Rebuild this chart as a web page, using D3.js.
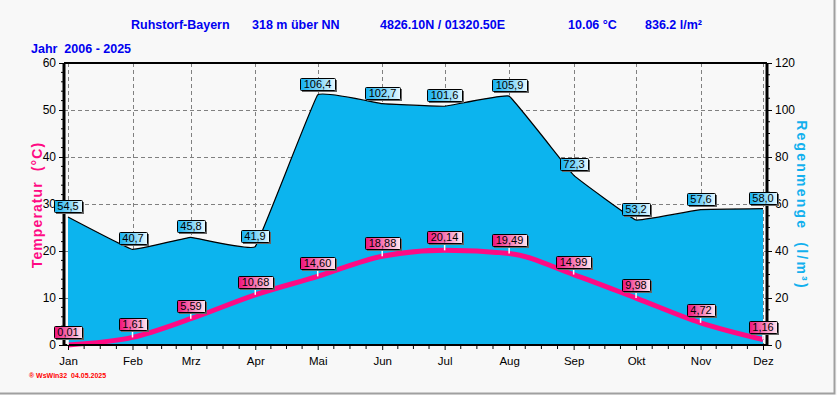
<!DOCTYPE html>
<html>
<head>
<meta charset="utf-8">
<script src="https://cdn.jsdelivr.net/npm/d3@7"></script>
<style>
  body { margin: 0; background: #f8f8f8; }
  svg { display: block; font-family: "Liberation Sans", Arial, sans-serif; }
</style>
</head>
<body>
<script>
  // data
  const months = ['Jan','Feb','Mrz','Apr','Mai','Jun','Jul','Aug','Sep','Okt','Nov','Dez'];
  const temperature = [0.01, 1.61, 5.59, 10.68, 14.60, 18.88, 20.14, 19.49, 14.99, 9.98, 4.72, 1.16];
  const rain = [54.5, 40.7, 45.8, 41.9, 106.4, 102.7, 101.6, 105.9, 72.3, 53.2, 57.6, 58.0];
  const tempTicks = [0, 10, 20, 30, 40, 50, 60];
  const rainTicks = [0, 20, 40, 60, 80, 100, 120];
  const headerTexts = [
    {t: 'Ruhstorf-Bayern', x: 131},
    {t: '318 m über NN', x: 252},
    {t: '4826.10N / 01320.50E', x: 380},
    {t: '10.06 °C', x: 568},
    {t: '836.2 l/m²', x: 645}
  ];

  const W = 837, H = 395;
  const margin = {top: 63, bottom: 50, left: 64, right: 70};
  const width = W - margin.left - margin.right;
  const height = H - margin.top - margin.bottom;

  const svg = d3.select('body').append('svg')
    .attr('width', W).attr('height', H);

  svg.append('rect').attr('width', W).attr('height', H).attr('fill', '#f8f8f8');
  // frame on right and bottom
  svg.append('path').attr('d', `M${W-2.5},0V${H-1.5}H0`)
    .attr('fill', 'none').attr('stroke', '#a0a0a0').attr('stroke-width', 2);

  const defs = svg.append('defs');
  const gPink = defs.append('linearGradient').attr('id', 'gPink');
  gPink.append('stop').attr('offset', '0%').attr('stop-color', '#f0107a');
  gPink.append('stop').attr('offset', '100%').attr('stop-color', '#ffe8f2');
  const gBlue = defs.append('linearGradient').attr('id', 'gBlue');
  gBlue.append('stop').attr('offset', '0%').attr('stop-color', '#10b0f0');
  gBlue.append('stop').attr('offset', '100%').attr('stop-color', '#e8f8ff');

  const g = svg.append('g').attr('transform', `translate(${margin.left},${margin.top})`);

  const dates = months.map((m, i) => new Date(2025, i, 1));
  const x = d3.scaleTime().domain([dates[0], dates[11]]).range([4, width - 4]);
  const yT = d3.scaleLinear().domain([0, 60]).range([height, 0]);
  const yR = d3.scaleLinear().domain([0, 120]).range([height, 0]);

  // grid
  g.append('g').selectAll('line').data(tempTicks.slice(1, -1)).join('line')
    .attr('x1', 0).attr('x2', width).attr('y1', d => yT(d) + 0.5).attr('y2', d => yT(d) + 0.5)
    .attr('stroke', '#808080').attr('stroke-dasharray', '4,3');
  g.append('g').selectAll('line').data(dates).join('line')
    .attr('x1', d => Math.round(x(d)) + 0.5).attr('x2', d => Math.round(x(d)) + 0.5)
    .attr('y1', 0).attr('y2', height)
    .attr('stroke', '#808080').attr('stroke-dasharray', '4,3');

  // rain area
  const rainCurve = d3.curveCardinal.tension(0.8);
  const area = d3.area().curve(rainCurve)
    .x((d, i) => x(dates[i])).y0(height).y1(d => yR(d));
  g.append('path').datum(rain).attr('d', area).attr('fill', '#0cb4ee');
  const rainLine = d3.line().curve(rainCurve)
    .x((d, i) => x(dates[i])).y(d => yR(d));
  g.append('path').datum(rain).attr('d', rainLine)
    .attr('fill', 'none').attr('stroke', '#000').attr('stroke-width', 1.2);

  // temperature line
  const tLine = d3.line().curve(d3.curveMonotoneX)
    .x((d, i) => x(dates[i])).y(d => yT(d));
  g.append('path').datum(temperature).attr('d', tLine)
    .attr('fill', 'none').attr('stroke', '#ff0a84').attr('stroke-width', 5);

  // axes
  const axLeft = g.append('g').call(d3.axisLeft(yT).tickValues(tempTicks).tickSize(5).tickPadding(3));
  const axRight = g.append('g').attr('transform', `translate(${width},0)`)
    .call(d3.axisRight(yR).tickValues(rainTicks).tickSize(5).tickPadding(3));
  const minorL = d3.range(0, 61, 2).filter(v => v % 10);
  g.append('g').selectAll('line').data(minorL).join('line')
    .attr('x1', -3).attr('x2', 0).attr('y1', d => yT(d)).attr('y2', d => yT(d)).attr('stroke', '#000');
  const minorR = d3.range(0, 121, 5).filter(v => v % 20);
  g.append('g').selectAll('line').data(minorR).join('line')
    .attr('x1', width).attr('x2', width + 3).attr('y1', d => yR(d)).attr('y2', d => yR(d)).attr('stroke', '#000');

  const axBottom = g.append('g').attr('transform', `translate(0,${height})`)
    .call(d3.axisBottom(x).tickValues(dates).tickFormat((d, i) => months[i]).tickSize(5).tickPadding(7));
  // quarter-month minor ticks
  const minorX = [];
  dates.slice(0, -1).forEach((d, i) => {
    const a = x(d), b = x(dates[i + 1]);
    [1, 2, 3].forEach(k => minorX.push(a + (b - a) * k / 4));
  });
  g.append('g').selectAll('line').data(minorX).join('line')
    .attr('x1', d => d).attr('x2', d => d).attr('y1', height).attr('y2', height + 4).attr('stroke', '#000');

  [axLeft, axRight, axBottom].forEach(a => {
    a.selectAll('text').attr('font-size', 12).attr('fill', '#000')
      .attr('font-family', '"Liberation Sans", Arial, sans-serif');
    a.selectAll('.tick line').attr('stroke', '#000');
  });
  axBottom.selectAll('text').attr('font-size', 11.5);
  axLeft.select('.domain').attr('stroke-width', 3).attr('d', `M0,0V${height}`);
  axRight.select('.domain').attr('stroke-width', 3).attr('d', `M0,0V${height}`);
  axBottom.select('.domain').attr('stroke-width', 2).attr('d', `M0,0H${width}`);
  g.append('line').attr('x1', 0).attr('x2', width).attr('y1', 0).attr('y2', 0)
    .attr('stroke', '#000').attr('stroke-width', 2);

  // value labels
  function labels(values, yScale, fmt, grad, gap, stem) {
    const lg = g.append('g');
    values.forEach((v, i) => {
      const px = x(dates[i]), py = yScale(v);
      const txt = fmt(v);
      const lab = lg.append('g');
      const t = lab.append('text').attr('font-size', 11).attr('text-anchor', 'middle').text(txt);
      const tw = t.node().getComputedTextLength();
      const bw = Math.round(tw + 7), bh = 12;
      const bx = Math.round(px - bw / 2), by = Math.round(py - gap - bh);
      if (stem) {
        lab.insert('line', 'text').attr('x1', px).attr('x2', px).attr('y1', by + bh).attr('y2', py)
          .attr('stroke', '#fff').attr('stroke-width', 1.5);
      }
      lab.insert('rect', 'text').attr('x', bx + 2).attr('y', by + 2).attr('width', bw).attr('height', bh)
        .attr('fill', '#666');
      lab.insert('rect', 'text').attr('x', bx + 0.5).attr('y', by + 0.5).attr('width', bw).attr('height', bh)
        .attr('fill', `url(#${grad})`).attr('stroke', '#000').attr('rx', 1);
      t.attr('x', bx + bw / 2).attr('y', by + bh - 2);
    });
  }
  const comma = (d, n) => d.toFixed(n).replace('.', ',');
  labels(rain, yR, d => comma(d, 1), 'gBlue', 5, false);
  labels(temperature, yT, d => comma(d, 2), 'gPink', 7, true);

  // header
  svg.append('g').selectAll('text').data(headerTexts).join('text')
    .attr('x', d => d.x).attr('y', 29).attr('font-size', 12.5).attr('font-weight', 'bold')
    .attr('fill', '#0000f0').text(d => d.t);
  svg.append('text').attr('x', 31).attr('y', 53).attr('font-size', 12.5).attr('font-weight', 'bold')
    .attr('fill', '#0000f0').attr('xml:space', 'preserve').text('Jahr  2006 - 2025');

  // axis titles
  svg.append('text').attr('transform', 'translate(42,205) rotate(-90)')
    .attr('text-anchor', 'middle').attr('font-size', 14).attr('font-weight', 'bold')
    .attr('letter-spacing', 1.1).attr('fill', '#ff0a84').attr('xml:space', 'preserve')
    .text('Temperatur  (°C)');
  svg.append('text').attr('transform', 'translate(797,205) rotate(90)')
    .attr('text-anchor', 'middle').attr('font-size', 14).attr('font-weight', 'bold')
    .attr('letter-spacing', 2.2).attr('fill', '#12b0ee').attr('xml:space', 'preserve')
    .text('Regenmenge  (l/m³)');

  // footer
  svg.append('text').attr('x', 29).attr('y', 378).attr('font-size', 7).attr('font-weight', 'bold')
    .attr('fill', '#ff0000').attr('xml:space', 'preserve').text('® WsWin32  04.05.2025');
</script>
</body>
</html>
